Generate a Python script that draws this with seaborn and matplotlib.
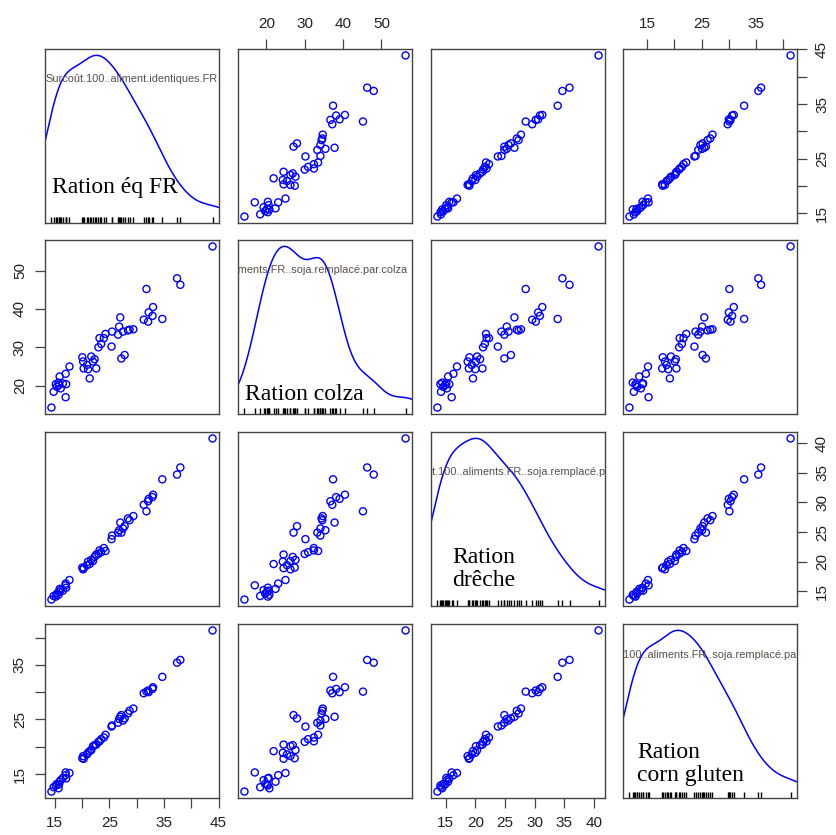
import numpy as np
import pandas as pd
import matplotlib
matplotlib.use("Agg")
import matplotlib.pyplot as plt
import seaborn as sns

# ---- data ----
ration_fr = [14.4, 14.8, 15.2, 15.4, 15.8, 16.1, 15.9, 16.5, 17.0, 17.1, 17.0, 17.7, 15.7,
             20.05, 20.2, 20.3, 20.9, 21.4, 21.7, 22.0, 22.3, 22.6, 21.1,
             23.0, 23.2, 23.5, 24.0, 24.3, 25.4, 25.5, 26.6, 26.8, 27.0, 27.2, 27.8, 27.5,
             28.4, 28.7, 29.4, 31.3, 31.8, 32.1, 32.2, 33.0, 32.9, 34.7, 37.4, 38.0, 43.9]
ration_colza = [14.3, 18.4, 20.4, 19.7, 20.2, 19.3, 22.4, 20.6, 23.1, 20.4, 17.0, 25.0, 20.8,
                27.4, 26.3, 24.5, 25.4, 21.9, 27.6, 26.3, 26.9, 24.5, 24.3,
                30.0, 32.4, 30.9, 32.4, 33.5, 30.2, 34.1, 33.3, 35.4, 37.8, 27.1, 28.0, 34.1,
                34.4, 34.6, 34.7, 37.2, 45.2, 36.7, 39.1, 40.5, 38.2, 37.4, 48.0, 46.3, 56.3]
ration_dreche = [13.6, 14.2, 14.1, 14.6, 14.9, 15.2, 15.4, 15.1, 16.3, 15.6, 16.0, 16.9, 14.4,
                 19.0, 18.7, 18.9, 19.4, 19.6, 20.3, 20.1, 20.8, 21.2, 20.0,
                 21.3, 21.9, 21.6, 22.3, 21.8, 23.8, 24.4, 24.9, 25.3, 26.6, 24.9, 26.0, 25.6,
                 27.3, 27.0, 27.7, 29.6, 28.5, 30.2, 30.6, 31.3, 30.9, 33.9, 34.7, 35.9, 40.8]
ration_cg = [11.8, 12.6, 12.9, 13.2, 13.1, 13.9, 13.6, 14.3, 14.8, 14.2, 15.3, 15.2, 12.4,
             17.9, 18.3, 17.8, 18.6, 19.2, 19.4, 20.1, 20.3, 20.4, 18.9,
             20.9, 21.0, 21.4, 21.7, 22.2, 23.7, 23.9, 24.4, 25.1, 25.5, 25.8, 25.2, 24.8,
             26.1, 26.6, 27.0, 29.8, 30.1, 30.3, 30.0, 30.9, 30.6, 32.8, 35.4, 35.9, 41.3]

var_names = ["Surcoût.100..aliment.identiques.FR",
             "Surcoût.100..aliments.FR..soja.remplacé.par.colza",
             "Surcoût.100..aliments.FR..soja.remplacé.par.drêche",
             "Surcoût.100..aliments.FR..soja.remplacé.par.corn.gluten"]
diag_labels = ["Ration éq FR", "Ration colza", "Ration\ndrêche", "Ration\ncorn gluten"]
tick_values = [[15, 20, 25, 30, 35, 40, 45],
               [20, 30, 40, 50],
               [15, 20, 25, 30, 35, 40],
               [15, 20, 25, 30, 35, 40]]
tick_labels = [["15", "", "25", "", "35", "", "45"],
               ["20", "30", "40", "50"],
               ["15", "20", "25", "30", "35", "40"],
               ["15", "", "25", "", "35", ""]]

df = pd.DataFrame({var_names[0]: ration_fr, var_names[1]: ration_colza,
                   var_names[2]: ration_dreche, var_names[3]: ration_cg})
cols = list(df.columns)

sns.set_theme(style="white")
plt.rcParams["font.family"] = ["Liberation Sans", "DejaVu Sans"]

W, H = 836, 835
fig = plt.figure(figsize=(W / 100, H / 100), dpi=100)
fig.patch.set_facecolor("white")

lefts = [45, 238, 431, 623]
tops = [49, 240, 432, 624]
size = 174

frame_col = "#444444"
text_col = "#222222"
blue = "#0000FF"


def rlims(v):
    v = np.asarray(v, float)
    r = v.max() - v.min()
    return v.min() - 0.04 * r, v.max() + 0.04 * r


def rdensity(v):
    v = np.asarray(v, float)
    n = len(v)
    iqr = np.subtract(*np.percentile(v, [75, 25]))
    bw = 0.9 * min(v.std(ddof=1), iqr / 1.34) * n ** -0.2
    grid = np.linspace(v.min() - 3 * bw, v.max() + 3 * bw, 512)
    dens = np.exp(-0.5 * ((grid[:, None] - v[None, :]) / bw) ** 2).sum(1) / (n * bw * np.sqrt(2 * np.pi))
    scaled = v.min() + dens * (v.max() - v.min()) / (dens.max() - dens.min())
    return grid, scaled


name_pos = [(0.5, 0.83, "center"), (-0.44, 0.83, "left"), (-0.19, 0.77, "left"), (-0.23, 0.82, "left")]
label_pos = [(0.04, 0.17), (0.04, 0.08), (0.12, 0.115), (0.08, 0.10)]

for i in range(4):
    for j in range(4):
        ax = fig.add_axes([lefts[j] / W, (H - tops[i] - size) / H, size / W, size / H])
        ax.set_facecolor("white")
        xl = rlims(df[cols[j]])
        yl = rlims(df[cols[i]])
        if i == j:
            gx, gy = rdensity(df[cols[i]])
            sns.lineplot(x=gx, y=gy, ax=ax, color=blue, linewidth=1.1, sort=False)
            sns.rugplot(x=df[cols[i]], ax=ax, color="black", height=0.035, linewidth=1.0)
            nx, ny, nha = name_pos[i]
            ax.text(nx, ny, var_names[i], transform=ax.transAxes, ha=nha, va="center",
                    fontsize=7.9, color="#5a5048", clip_on=True)
            lx, ly = label_pos[i]
            ax.text(lx, ly, diag_labels[i], transform=ax.transAxes, ha="left", va="baseline",
                    fontsize=17, family=["Liberation Serif", "DejaVu Serif"], color="black",
                    linespacing=1.12)
        else:
            sns.scatterplot(x=df[cols[j]], y=df[cols[i]], ax=ax, marker="o", s=26,
                            facecolors="none", edgecolor=blue, linewidth=1.0)
        ax.set_xlim(xl)
        ax.set_ylim(yl)
        ax.set_xlabel("")
        ax.set_ylabel("")
        for sp in ax.spines.values():
            sp.set_visible(True)
            sp.set_color(frame_col)
            sp.set_linewidth(1.0)
        ax.tick_params(axis="both", which="both", bottom=False, top=False, left=False, right=False,
                       labelbottom=False, labeltop=False, labelleft=False, labelright=False)
        tk = dict(direction="out", length=7, width=0.9, color=frame_col, labelsize=11,
                  labelcolor=text_col)
        # x axes
        if i == 3 and j % 2 == 0:
            ax.set_xticks(tick_values[j])
            ax.set_xticklabels(tick_labels[j])
            ax.tick_params(axis="x", bottom=True, labelbottom=True, pad=6, **tk)
        elif i == 0 and j % 2 == 1:
            ax.set_xticks(tick_values[j])
            ax.set_xticklabels(tick_labels[j])
            ax.xaxis.set_ticks_position("top")
            ax.tick_params(axis="x", top=True, labeltop=True, bottom=False, labelbottom=False, pad=6, **tk)
        else:
            ax.set_xticks([])
        # y axes
        if j == 0 and i % 2 == 1:
            ax.set_yticks(tick_values[i])
            ax.set_yticklabels(tick_labels[i], rotation=90, va="center")
            ax.tick_params(axis="y", left=True, labelleft=True, pad=6, **tk)
        elif j == 3 and i % 2 == 0:
            ax.set_yticks(tick_values[i])
            ax.set_yticklabels(tick_labels[i], rotation=90, va="center")
            ax.yaxis.set_ticks_position("right")
            ax.tick_params(axis="y", right=True, labelright=True, left=False, labelleft=False, pad=6, **tk)
        else:
            ax.set_yticks([])

fig.savefig("out.png", dpi=100, facecolor="white")
